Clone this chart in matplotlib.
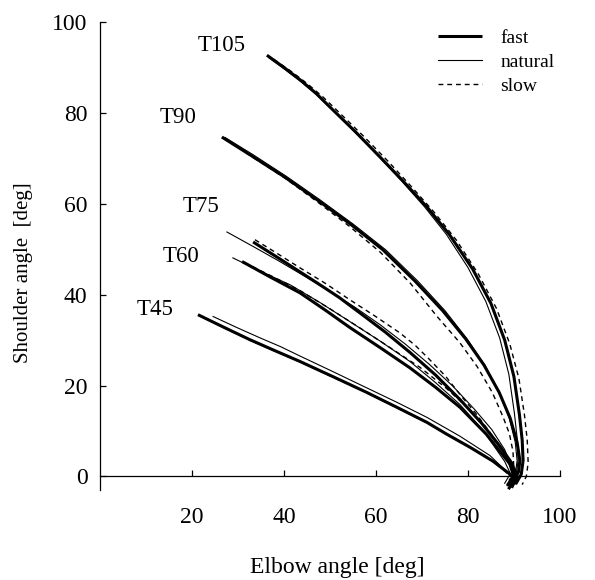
import matplotlib
matplotlib.use('Agg')
import matplotlib.pyplot as plt
from matplotlib.lines import Line2D

plt.rcParams['font.family'] = ['Liberation Serif', 'DejaVu Serif']

# elbow (x) / shoulder (y) angle trajectories, in degrees
t105_fast_x = [36.3, 40.0, 43.5, 47.0, 50.0, 55.5, 60.9, 66.0, 71.1, 76.0, 81.0, 85.0, 88.0, 90.0, 91.2, 91.8, 92.0, 91.6, 90.5, 89.0]
t105_fast_y = [92.7, 90.0, 87.3, 84.3, 81.3, 75.9, 70.3, 64.9, 59.3, 53.2, 45.7, 38.1, 30.0, 22.0, 13.6, 8.0, 3.5, 0.5, -1.5, -0.5]
t105_nat_x = [36.8, 40.3, 43.8, 47.2, 50.2, 55.5, 60.7, 65.7, 70.6, 75.3, 80.0, 83.9, 86.9, 88.9, 90.1, 90.7, 90.9, 90.5, 89.5]
t105_nat_y = [92.1, 89.5, 86.8, 83.9, 81.0, 75.7, 70.3, 64.9, 59.3, 53.3, 46.0, 38.5, 30.5, 22.5, 14.0, 8.5, 3.5, 0.3, -1.2]
t105_slow_x = [37.8, 41.5, 45.0, 48.5, 51.6, 57.2, 62.6, 67.7, 72.7, 77.5, 82.3, 86.2, 89.1, 91.1, 92.3, 92.9, 93.1, 92.7, 91.8]
t105_slow_y = [91.8, 89.2, 86.5, 83.5, 80.5, 75.0, 69.4, 63.8, 58.1, 52.0, 44.5, 37.0, 29.2, 21.5, 13.5, 8.0, 3.0, 0.0, -1.8]

t90_fast_x = [26.5, 32.6, 40.0, 47.2, 54.5, 61.5, 68.5, 74.5, 79.5, 83.5, 86.8, 89.2, 90.7, 91.3, 91.0, 90.0, 88.5]
t90_fast_y = [74.7, 70.8, 66.0, 60.9, 55.5, 49.9, 43.0, 36.5, 30.3, 24.5, 18.5, 12.8, 7.5, 3.5, 1.0, -0.8, -2.0]
t90_nat_x = [27.2, 33.3, 40.6, 47.8, 55.1, 62.1, 69.1, 75.0, 79.8, 83.7, 86.8, 89.0, 90.3, 90.7, 90.3, 89.3]
t90_nat_y = [74.6, 70.8, 66.0, 60.9, 55.5, 49.9, 43.0, 36.5, 30.3, 24.5, 18.5, 12.8, 7.5, 3.5, 0.5, -1.2]
t90_slow_x = [26.9, 33.0, 40.3, 47.3, 54.3, 61.0, 67.5, 73.3, 78.2, 82.0, 85.3, 87.6, 89.0, 89.8, 90.0, 89.5]
t90_slow_y = [74.4, 70.4, 65.6, 60.4, 55.0, 49.3, 42.5, 35.2, 29.5, 24.2, 18.5, 13.2, 9.5, 5.5, 1.5, -1.5]

t75_fast_x = [33.3, 40.0, 47.2, 52.0, 56.5, 62.0, 67.4, 73.0, 78.3, 83.0, 87.0, 89.5, 90.7, 89.5]
t75_fast_y = [51.6, 47.3, 42.6, 39.4, 36.0, 31.8, 27.3, 22.3, 16.9, 11.7, 6.6, 3.0, 0.0, -2.5]
t75_nat_x = [27.6, 33.5, 39.1, 44.6, 50.0, 55.5, 60.9, 66.3, 71.7, 76.8, 81.5, 85.2, 88.0, 90.2, 89.0]
t75_nat_y = [53.8, 50.5, 47.3, 44.0, 40.7, 37.2, 33.4, 29.2, 24.6, 19.8, 14.7, 10.3, 5.9, 0.4, -2.0]
t75_slow_x = [33.7, 38.5, 43.5, 49.0, 54.3, 59.8, 65.2, 68.6, 71.7, 75.2, 78.3, 81.7, 84.8, 87.6, 89.8, 90.9]
t75_slow_y = [52.1, 49.1, 45.9, 42.5, 38.9, 35.3, 31.6, 28.8, 25.7, 22.0, 18.0, 13.9, 9.7, 5.7, 2.6, -0.2]

t60_fast_x = [30.9, 37.0, 43.5, 49.0, 54.3, 61.0, 67.4, 73.0, 78.3, 84.0, 89.1, 90.2, 88.8]
t60_fast_y = [47.3, 43.9, 40.4, 36.6, 32.8, 28.3, 23.9, 19.6, 15.2, 9.3, 2.8, -0.7, -2.8]
t60_nat_x = [28.9, 35.0, 41.3, 47.8, 54.3, 60.9, 67.4, 72.9, 78.3, 83.4, 88.0, 89.6, 88.5]
t60_nat_y = [48.1, 45.1, 42.2, 38.3, 34.1, 29.8, 25.3, 20.7, 15.8, 10.0, 3.3, -0.2, -2.0]
t60_slow_x = [31.5, 37.5, 43.5, 50.0, 56.5, 63.0, 69.6, 75.2, 80.4, 84.5, 88.0, 90.2]
t60_slow_y = [47.0, 44.0, 40.9, 36.9, 32.7, 28.4, 24.0, 19.5, 14.7, 9.8, 4.8, -0.2]

t45_fast_x = [21.3, 27.0, 32.6, 38.0, 43.5, 50.8, 58.0, 64.6, 71.1, 75.4, 80.5, 85.4, 89.8, 88.7]
t45_fast_y = [35.6, 32.8, 30.1, 27.7, 25.3, 21.9, 18.5, 15.2, 11.9, 9.3, 6.4, 3.4, 0.0, -1.8]
t45_nat_x = [24.6, 29.7, 34.8, 39.2, 43.5, 50.8, 58.0, 64.6, 71.1, 78.2, 84.8, 89.1, 88.0]
t45_nat_y = [35.2, 32.8, 30.5, 28.6, 26.5, 23.0, 19.5, 16.3, 13.0, 8.9, 4.6, 0.4, -1.5]
t45_slow_x = [21.8, 27.4, 33.0, 38.5, 44.0, 51.2, 58.5, 65.0, 71.5, 78.5, 85.6, 90.0]
t45_slow_y = [35.4, 32.5, 29.8, 27.4, 25.0, 21.6, 18.2, 14.9, 11.6, 7.6, 3.2, -0.5]

target_names = ['T105', 'T90', 'T75', 'T60', 'T45']
label_x = [26.5, 16.9, 22.0, 17.6, 12.0]
label_y = [94.9, 78.9, 59.3, 48.4, 36.7]

fast_style = dict(color='black', lw=2.2, solid_capstyle='butt')
nat_style = dict(color='black', lw=0.8)
slow_style = dict(color='black', lw=1.0, dashes=(3.5, 2.8))

fig = plt.figure(figsize=(5.95, 5.8), dpi=100)
ax = fig.add_axes([0.168, 0.155, 0.773, 0.807])

# natural and slow first, fast on top
for xs, ys in [(t105_nat_x, t105_nat_y), (t90_nat_x, t90_nat_y), (t75_nat_x, t75_nat_y),
               (t60_nat_x, t60_nat_y), (t45_nat_x, t45_nat_y)]:
    ax.plot(xs, ys, **nat_style)
for xs, ys in [(t105_slow_x, t105_slow_y), (t90_slow_x, t90_slow_y), (t75_slow_x, t75_slow_y),
               (t60_slow_x, t60_slow_y), (t45_slow_x, t45_slow_y)]:
    ax.plot(xs, ys, **slow_style)
for xs, ys in [(t105_fast_x, t105_fast_y), (t90_fast_x, t90_fast_y), (t75_fast_x, t75_fast_y),
               (t60_fast_x, t60_fast_y), (t45_fast_x, t45_fast_y)]:
    ax.plot(xs, ys, **fast_style)

for name, lx, ly in zip(target_names, label_x, label_y):
    ax.text(lx, ly, name, fontsize=16.5, ha='center', va='center')

ax.set_xlim(0, 100)
ax.set_ylim(-3, 100)
ax.spines['top'].set_visible(False)
ax.spines['right'].set_visible(False)
ax.spines['bottom'].set_position(('data', 0))
ax.spines['left'].set_linewidth(0.9)
ax.spines['bottom'].set_linewidth(0.9)

ax.set_xticks([20, 40, 60, 80, 100])
ax.set_yticks([0, 20, 40, 60, 80, 100])
ax.tick_params(axis='x', direction='in', length=4, width=0.9, pad=22, labelsize=17)
ax.tick_params(axis='y', direction='in', length=4, width=0.9, pad=9, labelsize=17)

ax.set_xlabel('Elbow angle [deg]', fontsize=17, va='center')
ax.xaxis.set_label_coords(0.517, -0.165)
ax.set_ylabel('Shoulder angle  [deg]', fontsize=15, va='center')
ax.yaxis.set_label_coords(-0.167, 0.464)

handles = [Line2D([], [], **fast_style), Line2D([], [], **nat_style), Line2D([], [], **slow_style)]
ax.legend(handles, ['fast', 'natural', 'slow'], loc='upper left', bbox_to_anchor=(0.735, 0.985),
          frameon=False, fontsize=14, handlelength=2.27, handletextpad=0.93,
          labelspacing=0.33, borderpad=0, borderaxespad=0)

fig.savefig('out.png', dpi=100)
